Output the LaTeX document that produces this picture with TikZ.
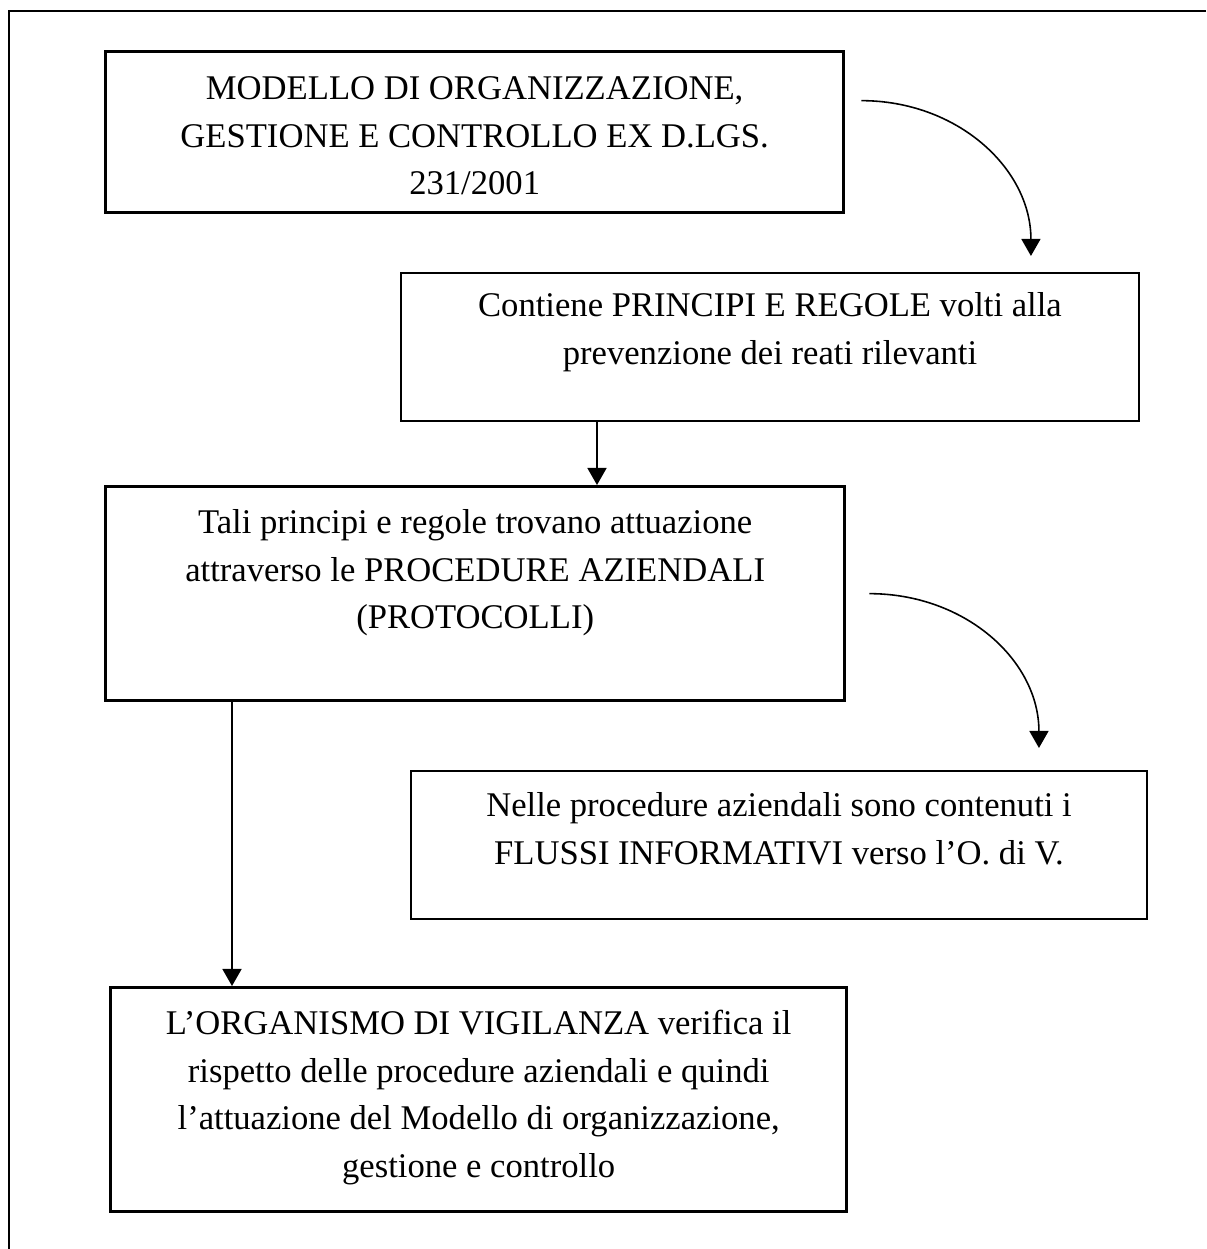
\documentclass[tikz,border=0pt]{standalone}
\usepackage{fontspec}
\setmainfont{Liberation Serif}
\usepackage{xcolor}
\usepackage{tikz}
\usetikzlibrary{arrows.meta}
\definecolor{MLine}{HTML}{000000}

\tikzset{
  mbox/.style={draw=MLine,line width=1.9pt,inner sep=0pt,anchor=north west},
  tbox/.style={draw=MLine,line width=1.1pt,inner sep=0pt,anchor=north west},
  arr/.style={draw=MLine,line width=0.9pt,-{Triangle[width=0.38cm,length=0.34cm]}}
}
% text block: width, height, first baseline, lines
\newcommand{\mtext}[4]{\parbox[c][#2][t]{#1}{\centering\fontsize{19.7pt}{27pt}\selectfont\rule{0pt}{#3}#4}}

\begin{document}
\begin{tikzpicture}[x=1cm,y=1cm]
\path[use as bounding box] (0,0) rectangle (24.12,24.98);
\draw[MLine,line width=1.1pt] (24.12,24.76) -- (0.18,24.76) -- (0.18,0);
\node[mbox] (model) at (2.08,23.98) {\mtext{14.76cm}{3.22cm}{0.96cm}{MODELLO DI ORGANIZZAZIONE,\\GESTIONE E CONTROLLO EX D.LGS.\\231/2001}};
\node[tbox] (rules) at (8.00,19.54) {\mtext{14.76cm}{2.96cm}{0.88cm}{Contiene PRINCIPI E REGOLE volti alla\\prevenzione dei reati rilevanti}};
\node[mbox] (proc) at (2.08,15.28) {\mtext{14.78cm}{4.28cm}{0.94cm}{Tali principi e regole trovano attuazione\\attraverso le PROCEDURE AZIENDALI\\(PROTOCOLLI)}};
\node[tbox] (flows) at (8.20,9.58) {\mtext{14.72cm}{2.96cm}{0.92cm}{Nelle procedure aziendali sono contenuti i\\FLUSSI INFORMATIVI verso l’O. di V.}};
\node[mbox] (odv) at (2.18,5.26) {\mtext{14.72cm}{4.48cm}{0.94cm}{L’ORGANISMO DI VIGILANZA verifica il\\rispetto delle procedure aziendali e quindi\\l’attuazione del Modello di organizzazione,\\gestione e controllo}};
\draw[arr] ([xshift=0.32cm,yshift=0.63cm]model.east) .. controls +(1.92,0) and +(0,1.75) .. ([xshift=-2.18cm,yshift=0.32cm]rules.north east);
\draw[arr] ([xshift=3.94cm]rules.south west) -- ([xshift=3.94cm]rules.south west |- proc.north);
\draw[arr] ([xshift=0.46cm]proc.east) .. controls +(1.92,0) and +(0,1.75) .. ([xshift=-2.18cm,yshift=0.44cm]flows.north east);
\draw[arr] ([xshift=2.56cm]proc.south west) -- ([xshift=2.56cm]proc.south west |- odv.north);
\end{tikzpicture}
\end{document}
